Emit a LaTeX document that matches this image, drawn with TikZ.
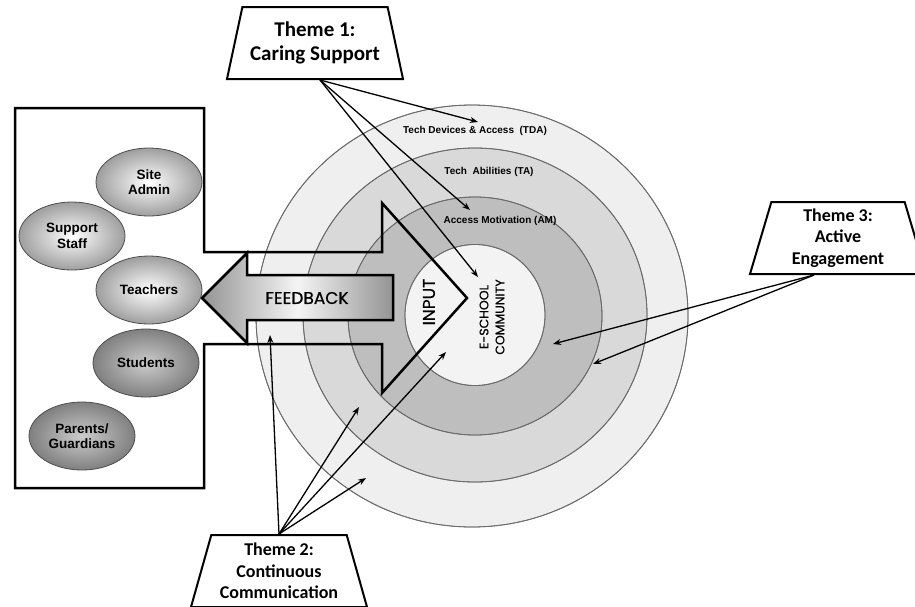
\documentclass[tikz,border=0pt]{standalone}
\usepackage{fontspec}
\setmainfont{Liberation Sans}
\newfontfamily\themefont{Carlito}
\newfontfamily\geofont{Poppins}[FakeBold=0.5]
\usetikzlibrary{shapes.geometric,arrows.meta}

\definecolor{ringout}{HTML}{EFEFEF}
\definecolor{ringta}{HTML}{D9D9D9}
\definecolor{ringam}{HTML}{BEBEBE}
\definecolor{ringin}{HTML}{F3F3F3}
\definecolor{ringline}{HTML}{6A6A6A}

\begin{document}
\begin{tikzpicture}[x=1pt,y=-1pt,
  ring/.style={fill=#1,draw=ringline,line width=0.8pt},
  person/.style={ellipse,draw=black!70,line width=0.8pt,minimum width=106,minimum height=68,
    inner color=white,outer color=black!38,align=center,
    font=\bfseries\fontsize{13.5}{15.5}\selectfont},
  darkperson/.style={person,inner color=black!20,outer color=black!50},
  theme/.style={trapezium,draw,line width=2pt,fill=white,trapezium left angle=70,
    trapezium right angle=70,trapezium stretches body,minimum width=176,minimum height=72,
    inner sep=0pt,align=center,font=\themefont\bfseries\fontsize{18}{21.5}\selectfont},
  ringlabel/.style={font=\bfseries\fontsize{10}{12}\selectfont},
  link/.style={line width=1.3pt,-{Stealth[length=8pt,width=6pt]}}]
\useasboundingbox (0,0) rectangle (915,606);

% rings of the e-school community
\fill[ring=ringout] (472,316) ellipse [x radius=216,y radius=211];
\fill[ring=ringta] (475,315) ellipse [x radius=172,y radius=167];
\fill[ring=ringam] (475,316) ellipse [x radius=127,y radius=119];
\fill[ring=ringin] (475,315) ellipse [x radius=70,y radius=70.5];
\draw[ringline,line width=0.8pt] (472,316) ellipse [x radius=216,y radius=211];
\draw[ringline,line width=0.8pt] (475,315) ellipse [x radius=172,y radius=167];
\draw[ringline,line width=0.8pt] (475,316) ellipse [x radius=127,y radius=119];
\draw[ringline,line width=0.8pt] (475,315) ellipse [x radius=70,y radius=70.5];

\node[ringlabel] (tdalabel) at (475,131) {Tech Devices \& Access~~(TDA)};
\node[ringlabel] (talabel) at (489,172) {Tech~~Abilities (TA)};
\node[ringlabel] (amlabel) at (500,221) {Access Motivation (AM)};

% stakeholder box with the input arrow
\draw[line width=2.5pt,line join=miter] (15,108) -- (204,108) -- (204,252) -- (382,252)
  -- (382,203) -- (467,298) -- (382,393) -- (382,344) -- (204,344) -- (204,488)
  -- (15,488) -- cycle;

% feedback arrow
\draw[line width=2.5pt,line join=miter,left color=black!42,right color=black!42,middle color=black!4]
  (393,275) -- (247,275) -- (247,253) -- (202,298) -- (247,343) -- (247,320)
  -- (393,320) -- cycle;
\node[font=\geofont\fontsize{17}{20}\selectfont] (feedback) at (307,298) {FEEDBACK};
\node[font=\geofont\fontsize{17}{20}\selectfont,rotate=90] (input) at (429,302) {INPUT};
\node[font=\geofont\fontsize{12.5}{16}\selectfont,rotate=90,align=center] (eschool) at (492,317)
  {E-SCHOOL\\COMMUNITY};

% stakeholders
\node[person] (siteadmin) at (149,182) {Site\\Admin};
\node[person] (support) at (72,236) {Support\\Staff};
\node[person] (teachers) at (149,290) {Teachers};
\node[darkperson] (students) at (146,363) {Students};
\node[darkperson] (parents) at (82,436) {Parents/\\Guardians};

% themes
\node[theme,font=\themefont\bfseries\fontsize{21}{24}\selectfont] (theme1) at (315,43)
  {Theme 1:\\Caring Support};
\node[theme] (theme2) at (279,571) {Theme 2:\\Continuous\\Communication};
\node[theme] (theme3) at (838,238) {Theme 3:\\Active\\Engagement};

\coordinate (tda) at (478,122);
\coordinate (am) at (470,210);
\coordinate (esc) at (478,277);
\coordinate (fbk) at (270,335);
\coordinate (ta2) at (359,407);
\coordinate (in2) at (446,352);
\coordinate (tda2) at (366,478);
\coordinate (am3) at (553,344);
\coordinate (ta3) at (593,364);

\draw[link] ([xshift=5pt]theme1.bottom side) -- (tda);
\draw[link] ([xshift=5pt]theme1.bottom side) -- (am);
\draw[link] ([xshift=5pt]theme1.bottom side) -- (esc);
\draw[link] (theme2.top side) -- (fbk);
\draw[link] (theme2.top side) -- (ta2);
\draw[link] (theme2.top side) -- (in2);
\draw[link] (theme2.top side) -- (tda2);
\draw[link] ([xshift=-24pt]theme3.bottom side) -- (am3);
\draw[link] ([xshift=-24pt]theme3.bottom side) -- (ta3);
\end{tikzpicture}
\end{document}
